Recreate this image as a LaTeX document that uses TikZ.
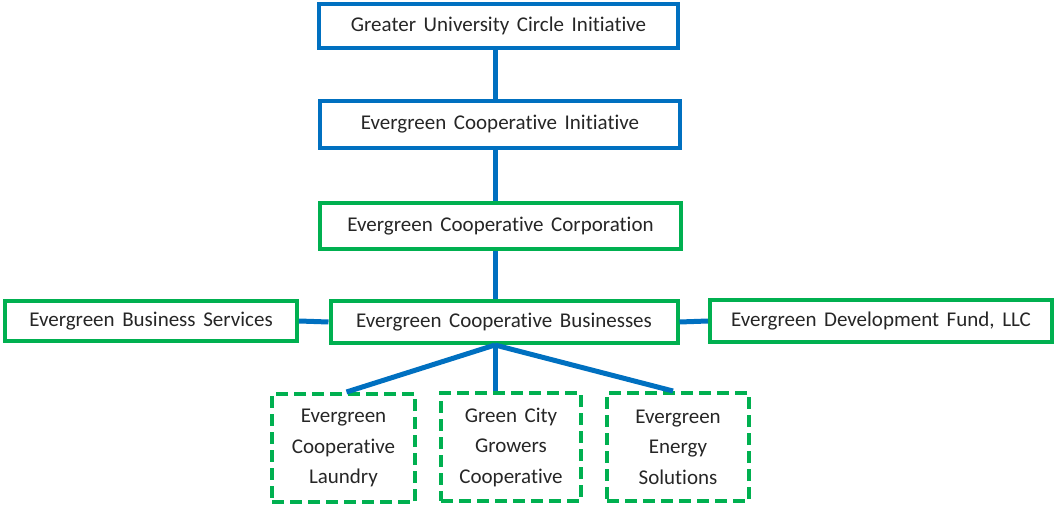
\documentclass[tikz,border=0pt]{standalone}
\usepackage{fontspec}
\setmainfont{Carlito}[WordSpace={1.6,1,1},Ligatures=NoCommon]
\definecolor{eblue}{HTML}{0070C0}
\definecolor{egreen}{HTML}{00B050}
\begin{document}
\begin{tikzpicture}[x=1pt,y=-1pt,
  box/.style={draw, line width=4pt, inner sep=0pt, align=center,
    font=\fontsize{21}{30.5}\selectfont, text=black!85},
  bluebox/.style={box, draw=eblue},
  greenbox/.style={box, draw=egreen},
  dashbox/.style={box, draw=egreen, dash pattern=on 12pt off 6pt},
  link/.style={draw=eblue, line width=5pt}]
\useasboundingbox (0,0) rectangle (1058,508);
\coordinate (spine) at (495,0);
\node[bluebox, minimum width=359pt, minimum height=44pt] (n1) at (498.5,26) {Greater University Circle Initiative};
\node[bluebox, minimum width=360pt, minimum height=47pt] (n2) at (500,124.5) {Evergreen Cooperative Initiative};
\node[greenbox, minimum width=361pt, minimum height=46pt] (n3) at (500.5,226) {Evergreen Cooperative Corporation};
\node[greenbox, minimum width=292pt, minimum height=40pt] (n4) at (151,321) {Evergreen Business Services};
\node[greenbox, minimum width=347pt, minimum height=42pt] (n5) at (504,322) {Evergreen Cooperative Businesses};
\node[greenbox, minimum width=342pt, minimum height=42pt] (n6) at (881,321) {Evergreen Development Fund, LLC};
\node[dashbox, minimum width=143pt, minimum height=108pt] (n7) at (343.5,448) {Evergreen\\Cooperative\\Laundry};
\node[dashbox, minimum width=140pt, minimum height=108pt] (n8) at (511,447) {Green City\\Growers\\Cooperative};
\node[dashbox, minimum width=142pt, minimum height=108pt] (n9) at (678,447) {Evergreen\\Energy\\Solutions};
\path[link] (n1.south -| spine) -- (n2.north -| spine);
\path[link] (n2.south -| spine) -- (n3.north -| spine);
\path[link] (n3.south -| spine) -- (n5.north -| spine);
\path[link] (n4.east) -- (n5.west);
\path[link] (n5.east) -- (n6.west);
\path[link] (n5.south -| spine) -- ([xshift=3pt]n7.north);
\path[link] (n5.south -| spine) -- (n8.north -| spine);
\path[link] (n5.south -| spine) -- ([xshift=-5pt]n9.north);
\end{tikzpicture}
\end{document}
